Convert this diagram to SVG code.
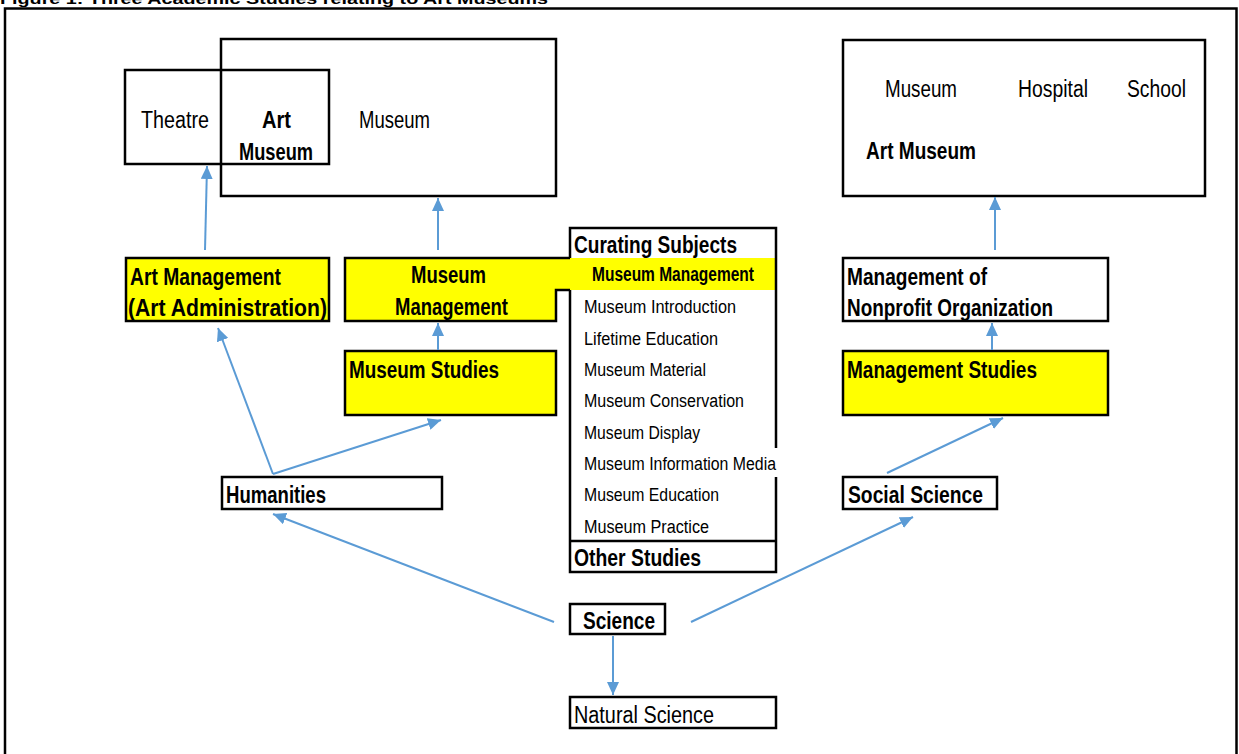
<svg xmlns="http://www.w3.org/2000/svg" width="1239" height="754" viewBox="0 0 1239 754">
<style>
text{font-family:"Liberation Sans",Arial,sans-serif;fill:#000}
.r{font-size:23px}
.b{font-size:23.5px;font-weight:bold}
.li{font-size:18px}
.box{fill:#fff;stroke:#000;stroke-width:2.5}
.open{fill:none;stroke:#000;stroke-width:2.5}
.yb{fill:#ffff00;stroke:#000;stroke-width:2.5}
.ln{fill:none;stroke:#000;stroke-width:2.5}
.c{stroke:#5b9bd5;stroke-width:2;fill:none;marker-end:url(#ah)}
</style>
<defs>
<marker id="ah" markerUnits="userSpaceOnUse" markerWidth="14" markerHeight="12" refX="13" refY="6" orient="auto">
<path d="M0,0 L13,6 L0,12 Z" fill="#5b9bd5"/>
</marker>
</defs>
<rect width="1239" height="754" fill="#fff"/>
<text x="0" y="3.5" style="font-size:15px;font-weight:bold" textLength="548" lengthAdjust="spacingAndGlyphs">Figure 1: Three Academic Studies relating to Art Museums</text>
<rect x="5" y="8.5" width="1231.5" height="760" fill="none" stroke="#000" stroke-width="2.5"/>

<g id="museum-set">
<rect class="open" x="221" y="39" width="335" height="157"/>
<text class="r" x="359" y="128" textLength="71" lengthAdjust="spacingAndGlyphs">Museum</text>
</g>
<g id="theatre-set">
<rect class="open" x="125" y="70" width="204" height="94"/>
<text class="r" x="141" y="128" textLength="68" lengthAdjust="spacingAndGlyphs">Theatre</text>
<text class="b" x="262" y="128" textLength="29" lengthAdjust="spacingAndGlyphs">Art</text>
<text class="b" x="239" y="160" textLength="74" lengthAdjust="spacingAndGlyphs">Museum</text>
</g>
<g id="nonprofit-set">
<rect class="box" x="843" y="40" width="362" height="156"/>
<text class="r" x="885" y="97" textLength="72" lengthAdjust="spacingAndGlyphs">Museum</text>
<text class="r" x="1018" y="97" textLength="70" lengthAdjust="spacingAndGlyphs">Hospital</text>
<text class="r" x="1127" y="97" textLength="59" lengthAdjust="spacingAndGlyphs">School</text>
<text class="b" x="866" y="159" textLength="110" lengthAdjust="spacingAndGlyphs">Art Museum</text>
</g>

<g id="art-management">
<rect class="yb" x="126" y="258" width="203" height="63"/>
<text class="b" x="130" y="285" textLength="151" lengthAdjust="spacingAndGlyphs">Art Management</text>
<text class="b" x="128" y="316" textLength="199" lengthAdjust="spacingAndGlyphs">(Art Administration)</text>
</g>

<g id="museum-management">
<path d="M345,258 H776 V290 H556 V321 H345 Z" fill="#ffff00"/>
<path class="ln" d="M570,258 H345 V321 H556 V290 H570"/>
<text class="b" x="411" y="283" textLength="75" lengthAdjust="spacingAndGlyphs">Museum</text>
<text class="b" x="395" y="315" textLength="113" lengthAdjust="spacingAndGlyphs">Management</text>
</g>

<g id="curating-subjects">
<path class="ln" d="M570,258 V228 H776 V448 M776,477 V572 H570 V290 M570,541 H776"/>
<text class="b" x="574" y="253" textLength="163" lengthAdjust="spacingAndGlyphs">Curating Subjects</text>
<text x="592" y="281" style="font-size:20px;font-weight:bold" textLength="162" lengthAdjust="spacingAndGlyphs">Museum Management</text>
<text class="li" x="584" y="313" textLength="152" lengthAdjust="spacingAndGlyphs">Museum Introduction</text>
<text class="li" x="584" y="345" textLength="134" lengthAdjust="spacingAndGlyphs">Lifetime Education</text>
<text class="li" x="584" y="376" textLength="122" lengthAdjust="spacingAndGlyphs">Museum Material</text>
<text class="li" x="584" y="407" textLength="160" lengthAdjust="spacingAndGlyphs">Museum Conservation</text>
<text class="li" x="584" y="439" textLength="116" lengthAdjust="spacingAndGlyphs">Museum Display</text>
<text class="li" x="584" y="470" textLength="192" lengthAdjust="spacingAndGlyphs">Museum Information Media</text>
<text class="li" x="584" y="501" textLength="135" lengthAdjust="spacingAndGlyphs">Museum Education</text>
<text class="li" x="584" y="533" textLength="125" lengthAdjust="spacingAndGlyphs">Museum Practice</text>
<text class="b" x="574" y="566" textLength="127" lengthAdjust="spacingAndGlyphs">Other Studies</text>
</g>

<g id="museum-studies">
<rect class="yb" x="345" y="351" width="211" height="64"/>
<text class="b" x="349" y="378" textLength="150" lengthAdjust="spacingAndGlyphs">Museum Studies</text>
</g>

<g id="management-nonprofit">
<rect class="box" x="843" y="258" width="265" height="63"/>
<text class="b" x="847" y="285" textLength="140" lengthAdjust="spacingAndGlyphs">Management of</text>
<text class="b" x="847" y="316" textLength="206" lengthAdjust="spacingAndGlyphs">Nonprofit Organization</text>
</g>

<g id="management-studies">
<rect class="yb" x="843" y="351" width="265" height="64"/>
<text class="b" x="847" y="378" textLength="190" lengthAdjust="spacingAndGlyphs">Management Studies</text>
</g>

<g id="humanities">
<rect class="box" x="222" y="477" width="220" height="32"/>
<text class="b" x="226" y="503" textLength="100" lengthAdjust="spacingAndGlyphs">Humanities</text>
</g>

<g id="social-science">
<rect class="box" x="843" y="477" width="154" height="32"/>
<text class="b" x="848" y="503" textLength="135" lengthAdjust="spacingAndGlyphs">Social Science</text>
</g>

<g id="science">
<rect class="box" x="570" y="604" width="95" height="30"/>
<text class="b" x="583" y="629" textLength="72" lengthAdjust="spacingAndGlyphs">Science</text>
</g>

<g id="natural-science">
<rect class="box" x="570" y="697" width="206" height="31"/>
<text class="r" x="574" y="723" textLength="140" lengthAdjust="spacingAndGlyphs">Natural Science</text>
</g>

<g id="connectors">
<line class="c" x1="205" y1="250" x2="207" y2="166"/>
<line class="c" x1="438" y1="250" x2="438" y2="198"/>
<line class="c" x1="438" y1="350" x2="438" y2="323"/>
<line class="c" x1="995" y1="250" x2="995" y2="197"/>
<line class="c" x1="992" y1="350" x2="992" y2="323"/>
<line class="c" x1="273" y1="474" x2="218" y2="328"/>
<line class="c" x1="273" y1="474" x2="441" y2="420"/>
<line class="c" x1="554" y1="622" x2="273" y2="514"/>
<line class="c" x1="691" y1="622" x2="913" y2="517"/>
<line class="c" x1="887" y1="473" x2="1003" y2="418"/>
<line class="c" x1="613" y1="636" x2="613" y2="695"/>
</g>
</svg>
